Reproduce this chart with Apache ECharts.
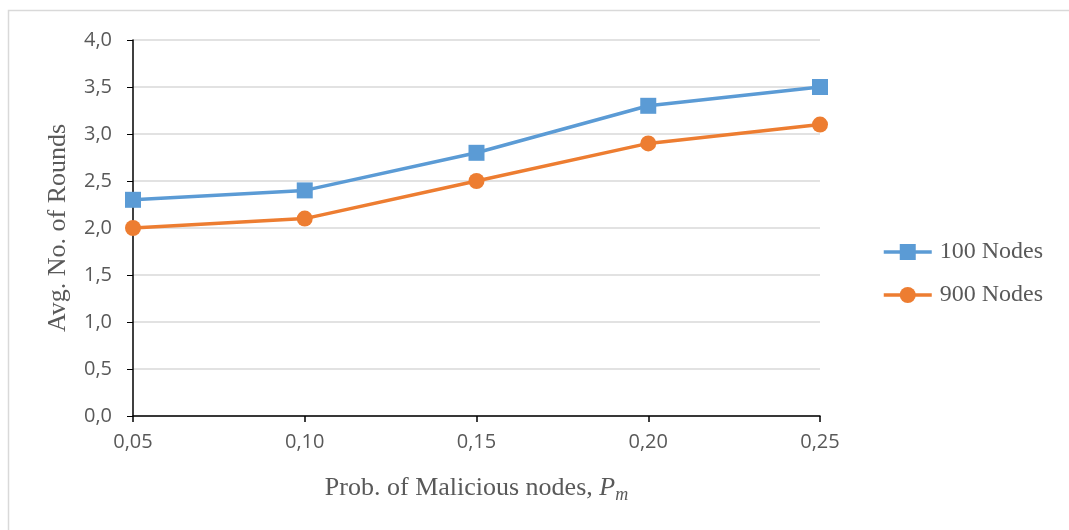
<!DOCTYPE html>
<html><head><meta charset="utf-8">
<script src="https://cdn.jsdelivr.net/npm/echarts@6/dist/echarts.min.js"></script>
<style>html,body{margin:0;padding:0;background:#fff}#c{width:1069px;height:530px}</style>
</head><body><div id="c"></div>
<script>
const categories = ['0,05','0,10','0,15','0,20','0,25'];
const nodes100 = [2.3, 2.4, 2.8, 3.3, 3.5];
const nodes900 = [2.0, 2.1, 2.5, 2.9, 3.1];
const seriesNames = ['100 Nodes','900 Nodes'];
const chart = echarts.init(document.getElementById('c'));
const serifFont = '"Liberation Serif", "Times New Roman", serif';
const sansFont = '"Open Sans", "DejaVu Sans", sans-serif';
chart.setOption({
  animation: false,
  backgroundColor: '#fff',
  graphic: [{type:'rect', shape:{x:8.5,y:10.5,width:1080,height:540}, style:{fill:'none', stroke:'#d9d9d9', lineWidth:1.5}}],
  grid: {left:133, right:249, top:40, bottom:114, containLabel:false},
  legend: {
    orient:'vertical', left:877, top:235, itemWidth:48, itemHeight:20, itemGap:19,
    lineStyle:{width:3.5},
    textStyle:{fontFamily:serifFont, fontSize:24, lineHeight:24, color:'#595959', padding:[0,0,0,3]},
    data: seriesNames
  },
  xAxis: {
    type:'category', data:categories, boundaryGap:false,
    name:'Prob. of Malicious nodes, {i|P}{s|m}', nameLocation:'middle', nameGap:56,
    nameTextStyle:{fontFamily:serifFont, fontSize:26, color:'#595959',
      rich:{i:{fontFamily:serifFont,fontSize:26,fontStyle:'italic',color:'#595959'}, s:{fontFamily:serifFont,fontSize:18,fontStyle:'italic',color:'#595959',verticalAlign:'bottom',padding:[14,0,0,0]}}},
    axisLine:{lineStyle:{color:'#000', width:1.5}},
    axisTick:{show:true, length:6, lineStyle:{color:'#000', width:1.5}},
    axisLabel:{fontFamily:sansFont, fontSize:20, color:'#595959', margin:16},
    splitLine:{show:false}
  },
  yAxis: {
    type:'value', min:0, max:4, interval:0.5,
    name:'Avg. No. of Rounds', nameLocation:'middle', nameGap:62,
    nameTextStyle:{fontFamily:serifFont, fontSize:26, color:'#595959'},
    axisLine:{show:true, lineStyle:{color:'#000', width:1.5}},
    axisTick:{show:true, length:6, lineStyle:{color:'#000', width:1}},
    axisLabel:{fontFamily:sansFont, fontSize:20, color:'#595959', margin:21, formatter:v=>v.toFixed(1).replace('.',',')},
    splitLine:{lineStyle:{color:'#d9d9d9', width:1.5}}
  },
  series: [
    {name:seriesNames[0], type:'line', data:nodes100, symbol:'rect', symbolSize:16,
     lineStyle:{color:'#5b9bd5', width:3.5}, itemStyle:{color:'#5b9bd5'}},
    {name:seriesNames[1], type:'line', data:nodes900, symbol:'circle', symbolSize:16,
     lineStyle:{color:'#ed7d31', width:3.5}, itemStyle:{color:'#ed7d31'}}
  ]
});
</script></body></html>
